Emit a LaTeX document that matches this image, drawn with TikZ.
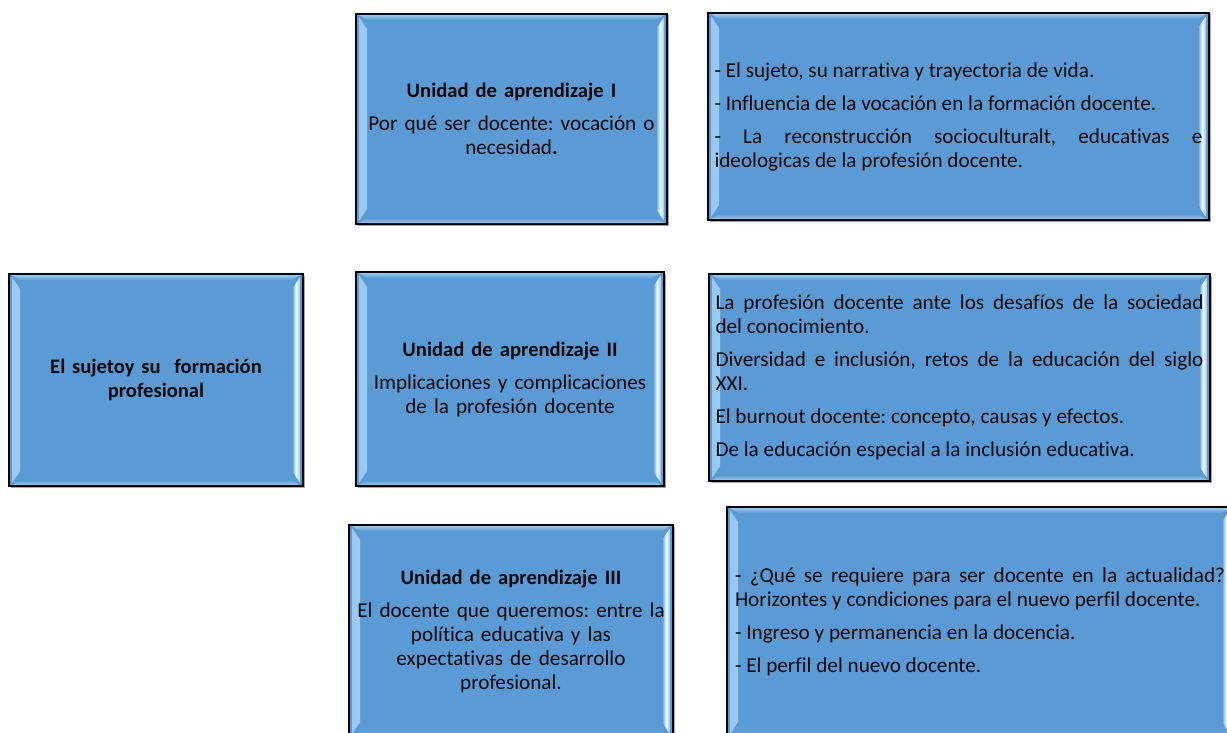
\documentclass[tikz,border=0pt]{standalone}
\usepackage{fontspec}
\setmainfont{Carlito}[Ligatures=NoCommon]
\usetikzlibrary{calc,shadows}
\definecolor{boxblue}{RGB}{91,155,213}
\definecolor{glow}{RGB}{242,253,255}
\definecolor{edgeblue}{RGB}{150,200,240}
\definecolor{txt}{RGB}{8,8,8}
\begin{document}
\begin{tikzpicture}[x=1pt,y=-1pt,
  bevelbox/.style={draw=black, line width=1.5pt, fill=boxblue, inner sep=0pt, text=txt,
    font=\fontsize{21.2}{24}\selectfont\frenchspacing,
    drop shadow={shadow xshift=1.5pt, shadow yshift=-1.5pt, fill=black, opacity=0.35},
    path picture={
      \fill[left color=edgeblue, right color=boxblue, middle color=glow]
        let \p1=(path picture bounding box.north west), \p2=(path picture bounding box.south east) in
        (\x1+3pt,\y1-3pt) -- (\x1+11pt,\y1-15pt) -- (\x1+11pt,\y2+15pt) -- (\x1+3pt,\y2+3pt) -- cycle;
      \fill[left color=boxblue, right color=edgeblue, middle color=glow]
        let \p1=(path picture bounding box.north west), \p2=(path picture bounding box.south east) in
        (\x2-3pt,\y1-3pt) -- (\x2-11pt,\y1-15pt) -- (\x2-11pt,\y2+15pt) -- (\x2-3pt,\y2+3pt) -- cycle;
      \fill[top color=edgeblue, bottom color=boxblue]
        let \p1=(path picture bounding box.north west), \p2=(path picture bounding box.south east) in
        (\x1+3pt,\y1-1pt) -- (\x2-3pt,\y1-1pt) -- (\x2-11pt,\y1-6pt) -- (\x1+11pt,\y1-6pt) -- cycle;
      \fill[top color=boxblue, bottom color=edgeblue]
        let \p1=(path picture bounding box.north west), \p2=(path picture bounding box.south east) in
        (\x1+3pt,\y2+1pt) -- (\x2-3pt,\y2+1pt) -- (\x2-11pt,\y2+6pt) -- (\x1+11pt,\y2+6pt) -- cycle;
    }},
  unitbox/.style={bevelbox, align=center},
  topicbox/.style={bevelbox, align=justify}
]
\fill[white] (0,0) rectangle (1227,733);
\clip (0,0) rectangle (1227,733);

\node[unitbox, minimum width=294pt, minimum height=212pt, text width=284pt,
      font=\fontsize{20.6}{24}\selectfont\bfseries\frenchspacing] (main) at (156,380)
  {El sujetoy su\ \ formación\\profesional};

\node[unitbox, minimum width=311pt, minimum height=210pt, text width=304pt] (u1) at (511.5,119)
  {{\fontsize{20.6}{24}\selectfont\bfseries Unidad de aprendizaje I}\\[9pt]Por qué ser docente: vocación o\\necesidad\textbf{.}};

\node[unitbox, minimum width=308pt, minimum height=214pt, text width=300pt] (u2) at (510,379)
  {{\fontsize{20.6}{24}\selectfont\bfseries Unidad de aprendizaje II}\\[9pt]Implicaciones y complicaciones\\de la profesión docente};

\node[unitbox, minimum width=324pt, minimum height=212pt, text width=316pt] (u3) at (511,631)
  {{\fontsize{20.6}{24}\selectfont\bfseries Unidad de aprendizaje III}\\[9pt]El docente que queremos: entre la\\política educativa y las\\expectativas de desarrollo\\profesional.};

\node[topicbox, minimum width=501pt, minimum height=207pt, text width=488pt] (t1) at (958.5,116.5)
  {\setlength\parskip{9pt}\setlength\parindent{0pt}%
   - El sujeto, su narrativa y trayectoria de vida.\par
   - Influencia de la vocación en la formación docente.\par
   - La reconstrucción socioculturalt, educativas e\linebreak ideologicas de la profesión docente.};

\node[topicbox, minimum width=501pt, minimum height=207pt, text width=488pt] (t2) at (959.5,377.5)
  {\setlength\parskip{9pt}\setlength\parindent{0pt}%
   La profesión docente ante los desafíos de la sociedad\linebreak del conocimiento.\par
   Diversidad e inclusión, retos de la educación del siglo\linebreak XXI.\par
   El burnout docente: concepto, causas y efectos.\par
   De la educación especial a la inclusión educativa.};

\node[topicbox, minimum width=506pt, minimum height=230pt, text width=490pt] (t3) at (980,622)
  {\setlength\parskip{9pt}\setlength\parindent{0pt}%
   - ¿Qué se requiere para ser docente en la actualidad?\linebreak Horizontes y condiciones para el nuevo perfil docente.\par
   - Ingreso y permanencia en la docencia.\par
   - El perfil del nuevo docente.};
\end{tikzpicture}
\end{document}
